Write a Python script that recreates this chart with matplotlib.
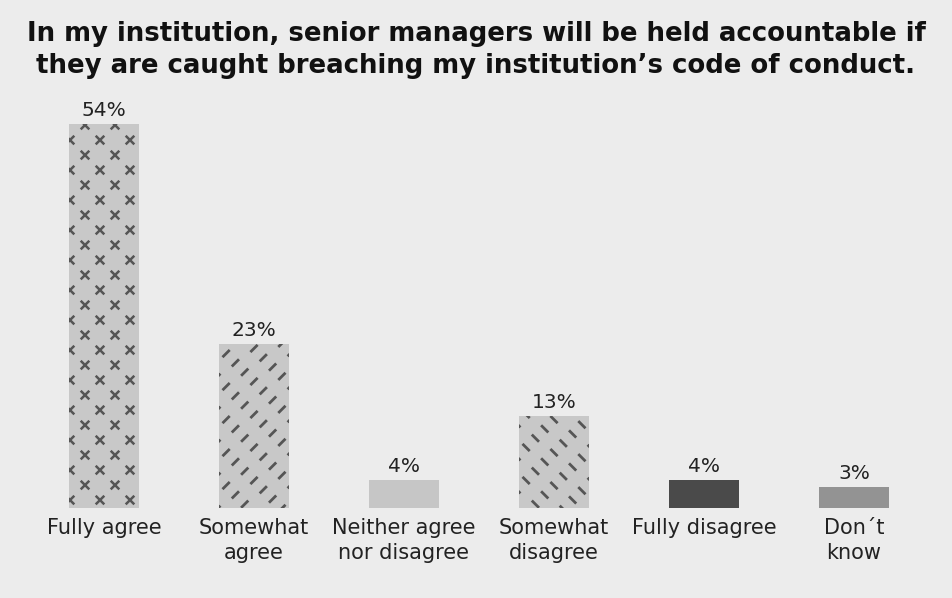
import matplotlib.pyplot as plt
import numpy as np
from matplotlib.collections import LineCollection
from matplotlib.transforms import IdentityTransform

# Survey answers
categories = ['Fully agree', 'Somewhat\nagree', 'Neither agree\nnor disagree',
              'Somewhat\ndisagree', 'Fully disagree', 'Don\u00b4t\nknow']
values = [54, 23, 4, 13, 4, 3]
fills = ['#c8c8c8', '#c8c8c8', '#c6c6c6', '#c8c8c8', '#4a4a4a', '#939393']
patterns = ['cross', 'slash', None, 'backslash', None, None]

title_lines = ['In my institution, senior managers will be held accountable if',
               'they are caught breaching my institution\u2019s code of conduct.']

BG = '#ececec'
INK = '#555555'
W, H = 952, 598

fig = plt.figure(figsize=(W / 100, H / 100), dpi=100, facecolor=BG)
ax = fig.add_axes([29 / W, (H - 508) / H, 900 / W, 408 / H])
ax.set_facecolor(BG)

x = np.arange(len(values))
bars = ax.bar(x, values, width=70 / 150, color=fills, zorder=2)
ax.set_xlim(-0.5, len(values) - 0.5)
ax.set_ylim(0, 408 / 7.11)

for s in ax.spines.values():
    s.set_visible(False)
ax.set_yticks([])
ax.set_xticks(x)
ax.set_xticklabels(categories, fontsize=15, color='#222222', linespacing=1.3)
ax.tick_params(axis='x', length=0, pad=7)

for b, v in zip(bars, values):
    ax.annotate(f'{v}%', (b.get_x() + b.get_width() / 2, v),
                xytext=(0, 5.8), textcoords='offset points', ha='center',
                va='baseline', fontsize=14.5, color='#222222')

for yb, line in zip([41, 73], title_lines):
    fig.text(0.5, 1 - yb / H, line, ha='center', va='baseline', fontsize=18.7,
             fontweight='bold', color='#111111', family='DejaVu Sans')

fig.canvas.draw()


def fill_pattern(bar, kind):
    # pixel box of the bar, marks are drawn in pixels and clipped to it
    (x0, y0), (x1, y1) = ax.transData.transform(
        [(bar.get_x(), 0), (bar.get_x() + bar.get_width(), bar.get_height())])
    segs = []
    if kind == 'cross':
        r = 4.3
        for j, yy in enumerate(np.arange(y1 - 1, y0 - 15, -15)):
            start = x0 + (1 if j % 2 else 16)
            for xx in np.arange(start - 30, x1 + 30, 30):
                segs.append([(xx - r, yy - r), (xx + r, yy + r)])
                segs.append([(xx - r, yy + r), (xx + r, yy - r)])
        lw = 1.8
    else:
        sgn = 1 if kind == 'slash' else -1
        d = 3.6
        step = 9.3
        n_diag = int((x1 - x0 + y1 - y0) / step) + 6
        for i in range(-n_diag, n_diag):
            for k in range(-2, int((y1 - y0) / 33) + 4):
                cx = x0 + 35 + sgn * (i * step)
                cy = y1 - 4 - i * step - k * 33
                segs.append([(cx - sgn * d, cy - d), (cx + sgn * d, cy + d)])
        lw = 2.0
    lc = LineCollection(segs, colors=INK, linewidths=lw, capstyle='butt',
                        transform=IdentityTransform(), zorder=3)
    lc.set_clip_path(bar)
    fig.add_artist(lc)


for b, p in zip(bars, patterns):
    if p:
        fill_pattern(b, p)

fig.savefig('out.png', dpi=100, facecolor=BG)
